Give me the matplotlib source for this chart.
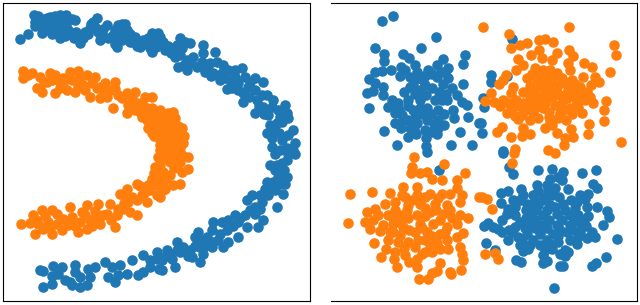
import matplotlib
matplotlib.use("Agg")
import matplotlib.pyplot as plt

moon_blue = [(20,39),(28,34),(34,15),(38,16),(35,22),(35,26),(42,19),(46,22),(50,17),(55,16),(60,15),(66,15),(53,22),(48,26),(42,33),(46,30),(52,28),(58,25),(72,19),(75,20),(66,25),(63,32),(60,38),(65,36),(70,34),(76,32),(80,43),(78,36),(85,32),(90,28),(93,22),(97,18),(91,24),(95,27),(107,25),(100,40),(102,35),(108,38),(113,35),(118,25),(122,24),(125,24),(118,32),(122,30),(115,44),(118,40),(125,36),(130,34),(135,37),(117,47),(122,40),(130,42),(137,46),(145,43),(150,48),(152,52),(143,40),(155,42),(152,33),(158,33),
(160,37),(163,42),(165,50),(173,48),(180,38),(185,42),(190,43),(177,45),(182,48),(175,57),(178,67),(187,70),(187,60),(193,57),(203,45),(203,53),(215,52),(202,62),(210,63),(217,62),(205,72),(213,73),(223,65),(220,80),(228,70),(227,89),(232,88),(235,70),(242,68),(230,80),(238,83),(245,77),(255,78),(263,82),(248,87),(243,93),(243,102),(255,90),(257,100),(267,95),(255,113),(263,107),(273,100),(285,105),(287,113),(268,115),(278,110),(288,118),(270,125),(277,123),(267,133),(272,138),(282,140),(293,130),(288,135),(295,143),(272,147),(280,150),(293,150),
(275,154),(288,154),(295,154),(287,160),(270,165),(277,165),(275,170),(287,177),(278,177),(285,184),(267,182),(273,182),(265,189),(283,194),(277,207),(260,195),(252,195),(247,200),(255,207),(268,195),(250,210),(260,209),(245,215),(235,215),(263,220),(258,227),(247,227),(228,220),(238,222),(227,230),(238,237),(213,222),(212,230),(220,234),(228,242),(223,247),(198,232),(195,237),(207,237),(213,242),(212,247),(200,240),(177,242),(183,247),(190,250),(200,247),(203,254),(192,257),(200,262),(177,250),(167,250),(172,259),(175,267),(162,270),(162,260),(180,252),
(40,270),(43,271),(53,266),(62,267),(52,276),(58,274),(43,287),(52,284),(65,280),(75,265),(75,272),(70,282),(72,285),(80,277),(80,287),(87,285),(88,269),(90,277),(95,267),(105,262),(112,267),(120,265),(108,277),(115,282),(118,275),(127,274),(132,260),(143,255),(138,275),(143,272),(150,267),(150,260),(157,252),(159,269),(157,259),
(38,22),(44,24),(57,20),(62,21),(47,18),(40,26),(52,34),(57,31),(68,30),(74,38),(83,38),(88,34),(98,32),(103,29),(115,30),(121,36),(127,30),(133,42),(140,47),(148,38),(156,47),(168,46),(171,53),(180,55),(184,65),(191,63),(197,67),(207,67),(211,76),(222,73),(225,78),(235,77),(238,90),(250,82),(249,97),(262,95),(259,106),(264,114),(272,107),(280,117),(282,122),(275,131),(279,133),(287,148),(282,163),(284,170),(280,184),(275,190),(270,188),(262,202),(255,214),(240,218),(233,226),(222,222),(218,240),(205,246),(195,246),(188,256),(170,254),(166,256)]
moon_blue_x = [p[0] for p in moon_blue]
moon_blue_y = [p[1] for p in moon_blue]

moon_orange = [(23,71),(23,78),(32,73),(40,77),(37,88),(42,92),(50,73),(47,82),(55,75),(58,80),(55,93),(63,83),(70,72),(78,71),(67,90),(75,92),(80,78),(87,75),(95,77),(83,85),(90,97),(97,88),(105,83),(115,82),(100,98),(110,90),(107,97),(118,95),(113,108),(127,93),(135,92),(127,113),(128,105),(137,103),(145,97),(152,97),(140,112),(152,108),(147,120),(148,128),(155,115),(157,127),(154,136),(160,140),
(160,110),(173,112),(168,113),(163,117),(172,122),(182,128),(167,128),(177,135),(183,143),(170,140),(162,137),(180,148),(167,148),(158,122),(165,142),(175,150),(160,150),
(188,157),(180,162),(188,169),(170,162),(182,172),(170,175),(180,184),(173,185),(165,189),(160,197),(163,172),(163,182),(177,165),(170,155),
(158,157),(155,167),(158,177),(152,179),(157,185),(148,185),(157,195),(137,184),(145,192),(147,202),(127,189),(120,194),(137,200),(128,202),(137,215),(130,212),(118,209),(115,227),(110,204),(107,214),(98,204),(100,224),(87,205),(90,220),(87,229),(78,232),(82,212),(70,207),(72,217),(62,230),(63,219),(52,234),(52,210),(42,210),(48,222),(43,229),(33,215),(35,234),(38,224),(21,224),(30,223),(57,224),(103,215),(123,209),
(28,75),(44,82),(52,80),(60,88),(63,78),(72,80),(78,86),(85,90),(92,83),(100,87),(104,92),(115,89),(122,98),(132,98),(142,103),(147,108),(135,110),(142,117),(150,114),(155,122),(152,133),(160,128),(165,122),(175,118),(178,126),(172,132),(165,135),(176,143),(168,145),(160,145),(184,136),(174,148),(182,155),(175,158),(165,158),(160,165),(174,168),(166,178),(158,172),(154,173),(150,190),(142,195),(132,197),(124,203),(117,215),(111,220),(95,211),(92,226),(80,222),(75,226),(68,225),(57,214),(50,228),(45,216),(36,220),(95,218),(85,215),(125,196),(140,186),(163,190)]
moon_orange_x = [p[0] for p in moon_orange]
moon_orange_y = [p[1] for p in moon_orange]

blob_blue = [(382,21),(393,16),(436,37),(375,48),(421,48),(384,54),(384,61),(403,54),(465,55),(463,64),(443,59),(409,58),(415,65),(401,67),(375,72),(382,71),(391,70),(369,79),(375,83),(383,87),(367,93),(373,91),(383,95),(369,108),(400,76),(410,77),(417,72),(428,70),(437,65),(448,68),(448,78),(437,77),(423,80),(410,87),(420,90),(432,88),(452,88),(463,84),(457,95),(462,102),(467,105),(468,117),(453,110),(454,118),(392,100),(388,107),(398,103),(408,100),(420,100),(435,100),(447,100),(395,113),(402,115),(413,110),(427,108),(438,110),(415,117),(427,120),(438,120),(395,123),(401,128),(410,128),(417,123),(425,130),(438,128),(384,131),(408,137),(416,134),(426,138),(397,145),(426,146),(451,145),(472,145),(460,132),(479,123),
(512,39),(491,75),(491,82),(507,76),(483,98),(484,107),(481,123),(482,133),(503,151),(439,170),(427,152),
(503,153),(509,167),(513,174),(538,170),(552,169),(563,172),(582,173),(596,170),(558,177),(550,179),(537,185),(547,185),(562,180),(593,184),(597,188),(521,189),(508,191),(501,193),(501,203),(513,200),(523,195),(533,195),(552,195),(568,189),(580,195),(588,194),(508,209),(507,214),(515,207),(527,204),(538,205),(550,205),(563,204),(577,202),(587,207),(597,207),(607,211),(609,217),(603,225),(584,220),(502,220),(515,215),(530,215),(543,215),(557,214),(570,215),(578,215),(488,223),(484,226),(493,227),(498,229),(502,232),(509,230),(515,227),(530,225),(543,225),(557,225),(570,225),(527,234),(540,234),(553,234),(567,232),(580,232),(592,232),(595,237),(587,238),(578,237),(570,240),(577,244),(617,239),(486,243),(508,240),(518,237),(522,240),(533,240),(547,240),(558,242),(495,250),(523,251),(528,249),(545,250),(552,249),(565,250),(560,254),(565,256),(568,252),(543,255),(547,261),(543,263),(516,260),(521,262),(606,257),(596,263),(592,266),(560,266),(563,266),(554,288),
(405,70),(413,84),(404,92),(415,94),(426,75),(432,74),(441,72),(443,84),(426,95),(439,92),(446,94),(399,110),(408,106),(420,108),(431,114),(444,114),(408,120),(422,114),(434,124),(444,125),(414,129),(431,132),(437,134),(403,120),(392,107),(445,72),(425,85),(418,78),(442,100),
(520,200),(526,210),(535,200),(544,197),(559,197),(571,200),(585,199),(520,222),(526,218),(536,210),(547,210),(555,207),(565,210),(575,208),(588,216),(525,228),(536,220),(549,220),(562,220),(574,221),(581,226),(535,228),(547,228),(560,230),(572,230),(586,226),(530,245),(540,245),(550,244),(520,245),(558,236),(548,190),(555,188),(545,200),(538,191),(530,205),(512,232)]
blob_blue_x = [p[0] for p in blob_blue]
blob_blue_y = [p[1] for p in blob_blue]

blob_orange = [(483,27),(569,27),(509,34),(511,48),(520,45),(527,43),(539,40),(545,39),(553,42),(614,45),(616,55),(569,50),(573,56),(557,53),(539,50),(531,55),(542,58),(552,60),(518,59),(523,65),(516,70),(584,63),(592,67),(610,72),(568,63),(535,68),(543,70),(506,75),(503,80),(499,84),(527,78),(537,80),(557,73),(570,70),(583,77),(595,77),(599,82),(513,87),(511,93),(491,93),(485,101),(494,102),(503,100),(500,106),(508,103),(507,113),(512,108),(523,92),(530,97),(523,103),(547,83),(557,87),(568,90),(580,87),(587,92),(540,97),(550,97),(563,100),(577,100),(593,103),(606,101),(604,110),(604,121),(589,124),(588,134),(621,142),(582,113),(570,108),(560,113),(543,108),(533,113),(522,115),(518,119),(530,120),(550,122),(558,118),(545,128),(552,125),(523,128),(530,134),(522,136),(502,127),(497,132),(511,137),(557,133),(571,129),(565,138),(573,137),(564,145),(515,149),(548,150),(555,153),(540,85),(552,78),(535,92),(560,95),(545,90),(555,105),
(414,157),(444,164),(412,167),(411,173),(420,173),(427,172),(432,179),(442,180),(465,173),(457,180),(457,188),(350,194),(372,192),(390,193),(403,187),(417,187),(402,195),(417,195),(430,194),(442,194),(450,194),(462,195),(385,204),(395,202),(408,205),(420,204),(435,204),(447,205),(460,202),(479,197),(367,212),(375,209),(378,215),(373,220),(365,222),(348,223),(370,229),(388,215),(400,215),(417,215),(430,212),(443,214),(460,215),(468,218),(383,225),(393,224),(403,227),(420,224),(433,224),(447,227),(457,224),(380,231),(390,232),(400,235),(415,232),(427,232),(440,234),(463,233),(457,237),(388,240),(398,242),(408,242),(418,240),(430,245),(440,249),(448,249),(447,240),(374,243),(386,249),(395,252),(381,257),(394,259),(405,255),(422,254),(417,259),(409,262),(460,247),(462,254),(463,260),(440,263),(397,267),(417,267),(419,279),(428,279),(432,273),(437,271),(450,272),(451,274),(461,270),
(482,197),(487,199),(492,209),(485,254),(495,253),(498,259),(512,163),(514,153),
(532,74),(543,76),(550,70),(562,78),(575,84),(591,85),(530,86),(552,90),(565,83),(574,93),(585,100),(535,100),(545,103),(555,95),(567,98),(578,107),(590,97),(516,100),(525,110),(537,107),(549,112),(561,106),(572,114),(580,94),(518,106),(538,118),(549,117),(566,120),(545,80),(538,73),(546,96),(528,105),(556,85),(563,110),(530,90),(572,80),(515,116),(576,100),
(405,197),(425,197),(412,200),(395,210),(407,210),(425,208),(436,210),(450,210),(408,218),(425,216),(440,220),(452,218),(393,232),(409,230),(422,228),(432,236),(445,232),(425,240),(437,243),(415,247),(404,248),(393,218),(425,252),(432,252),(400,222),(438,198)]
blob_orange_x = [p[0] for p in blob_orange]
blob_orange_y = [p[1] for p in blob_orange]

BLUE = "#1f77b4"
ORANGE = "#ff7f0e"
W, H = 640, 305
MARK = 58

fig = plt.figure(figsize=(6.4, 3.05), dpi=100)

def panel(x0, x1, y0, y1):
    ax = fig.add_axes([x0 / W, 1 - y1 / H, (x1 - x0) / W, (y1 - y0) / H])
    ax.set_xlim(x0, x1)
    ax.set_ylim(y1, y0)
    ax.set_xticks([])
    ax.set_yticks([])
    return ax

left = panel(2.5, 309.5, 2.5, 300.5)
left.scatter(moon_blue_x, moon_blue_y, s=MARK, c=BLUE, linewidths=0)
left.scatter(moon_orange_x, moon_orange_y, s=MARK, c=ORANGE, linewidths=0)

right = panel(331, 637, 2.5, 300.5)
right.scatter(blob_blue_x, blob_blue_y, s=MARK, c=BLUE, linewidths=0)
right.scatter(blob_orange_x, blob_orange_y, s=MARK, c=ORANGE, linewidths=0)
right.spines["left"].set_visible(False)

fig.savefig("out.png", dpi=100)
